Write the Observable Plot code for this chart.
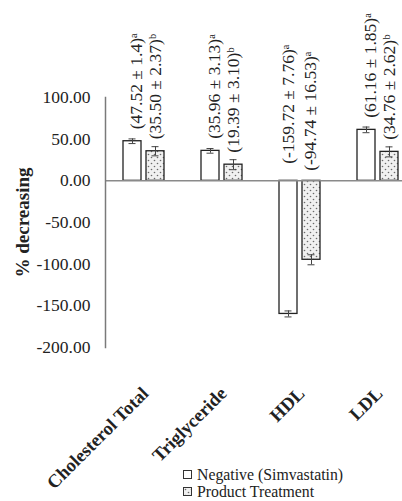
<!DOCTYPE html>
<html>
<head>
<meta charset="utf-8">
<script src="https://cdn.jsdelivr.net/npm/d3@7"></script>
<script src="https://cdn.jsdelivr.net/npm/@observablehq/plot@0.6"></script>
<style>
  html, body { margin: 0; padding: 0; background: #fff; overflow: hidden; }
  #wrap { position: relative; width: 402px; height: 501px; }
  #legend { position: absolute; left: 183px; top: 466px; font-family: "Liberation Serif", "Times New Roman", serif; font-size: 15.8px; color: #222; line-height: 17px; }
  #legend .row { display: flex; align-items: center; white-space: nowrap; }
  #legend .sw { width: 7px; height: 7px; border: 1px solid #333; margin-right: 5px; box-sizing: content-box; }
</style>
</head>
<body>
<div id="wrap"></div>
<script>
// ---- data ----
const categories = ["Cholesterol Total", "Triglyceride", "HDL", "LDL"];
const seriesNames = ["Negative (Simvastatin)", "Product Treatment"];
const negValues = [47.52, 35.96, -159.72, 61.16];
const prodValues = [35.50, 19.39, -94.74, 34.76];
const negSD = ["1.4", "3.13", "7.76", "1.85"];
const prodSD = ["2.37", "3.10", "16.53", "2.62"];
const negSig = ["a", "a", "a", "a"];
const prodSig = ["b", "b", "a", "b"];
// error bar half-lengths as drawn in the figure
const negErrDrawn = [2.8, 2.8, 3.6, 3.4];
const prodErrDrawn = [5.5, 6.0, 6.0, 6.0];
const yTicks = [100, 50, 0, -50, -100, -150, -200];

const sup = {a: "\u1D43", b: "\u1D47"};
const rows = [];
categories.forEach((c, i) => {
  rows.push({cat: c, series: seriesNames[0], value: negValues[i], err: negErrDrawn[i],
    label: `(${negValues[i].toFixed(2)} ± ${negSD[i]})${sup[negSig[i]]}`});
  rows.push({cat: c, series: seriesNames[1], value: prodValues[i], err: prodErrDrawn[i],
    label: `(${prodValues[i].toFixed(2)} ± ${prodSD[i]})${sup[prodSig[i]]}`});
});
const neg = rows.filter(d => d.series === seriesNames[0]);
const prod = rows.filter(d => d.series === seriesNames[1]);

const FONT = '"Liberation Serif", "Times New Roman", serif';

const chart = Plot.plot({
  width: 402,
  height: 501,
  marginLeft: 105,
  marginRight: -15,
  marginTop: 97,
  marginBottom: 154,
  style: {fontFamily: FONT, fontSize: "17px", color: "#222", background: "transparent", overflow: "visible"},
  x: {domain: categories, padding: 0, axis: null},
  y: {domain: [-200, 100], ticks: yTicks, axis: null},
  marks: [
    Plot.axisY({ticks: yTicks, tickSize: 0, tickPadding: 15, tickFormat: d => d.toFixed(2), label: null, fontSize: 17.5}),
    Plot.axisX({tickRotate: -45, tickSize: 0, tickPadding: 43, label: null, fontWeight: "bold", fontSize: 18.5, dx: 1}),
    Plot.text(["% decreasing"], {frameAnchor: "left", textAnchor: "middle", rotate: -90, dx: -83, fontWeight: "bold", fontSize: 19}),
    Plot.barY(neg, {x: "cat", y: "value", insetLeft: 18, insetRight: 42, fill: "white", stroke: "#222", strokeWidth: 1.3}),
    Plot.barY(prod, {x: "cat", y: "value", insetLeft: 41, insetRight: 19, fill: "url(#dots)", stroke: "#222", strokeWidth: 1.3}),
    Plot.ruleX(neg, {x: "cat", y1: d => d.value - d.err, y2: d => d.value + d.err, dx: -12, stroke: "#444", strokeWidth: 1}),
    Plot.ruleX(prod, {x: "cat", y1: d => d.value - d.err, y2: d => d.value + d.err, dx: 11, stroke: "#444", strokeWidth: 1}),
    Plot.tickY(neg, {x: "cat", y: d => d.value + d.err, insetLeft: 23.5, insetRight: 47.5, stroke: "#444", strokeWidth: 1}),
    Plot.tickY(neg, {x: "cat", y: d => d.value - d.err, insetLeft: 23.5, insetRight: 47.5, stroke: "#444", strokeWidth: 1}),
    Plot.tickY(prod, {x: "cat", y: d => d.value + d.err, insetLeft: 46.5, insetRight: 24.5, stroke: "#444", strokeWidth: 1}),
    Plot.tickY(prod, {x: "cat", y: d => d.value - d.err, insetLeft: 46.5, insetRight: 24.5, stroke: "#444", strokeWidth: 1}),
    Plot.ruleY([0], {stroke: "#8a8a8a", strokeWidth: 1.5}),
    Plot.frame({anchor: "left", stroke: "#7a7a7a", strokeWidth: 1.5}),
    // value labels
    Plot.text(neg.filter(d => d.value >= 0), {x: "cat", y: "value", text: "label", rotate: -90, textAnchor: "start", dx: -8, dy: -12, fontSize: 17.5, fill: "#222"}),
    Plot.text(prod.filter(d => d.value >= 0), {x: "cat", y: "value", text: "label", rotate: -90, textAnchor: "start", dx: 11, dy: -12, fontSize: 17.5, fill: "#222"}),
    Plot.text(neg.filter(d => d.value < 0), {x: "cat", y: 0, text: "label", rotate: -90, textAnchor: "start", dx: -12, dy: -17, fontSize: 17.5, fill: "#222"}),
    Plot.text(prod.filter(d => d.value < 0), {x: "cat", y: 0, text: "label", rotate: -90, textAnchor: "start", dx: 10, dy: -10, fontSize: 17.5, fill: "#222"})
  ]
});

// dotted pattern definition
const NS = "http://www.w3.org/2000/svg";
function makePattern(id) {
  const defs = document.createElementNS(NS, "defs");
  const pat = document.createElementNS(NS, "pattern");
  pat.setAttribute("id", id);
  pat.setAttribute("width", "6");
  pat.setAttribute("height", "6");
  pat.setAttribute("patternUnits", "userSpaceOnUse");
  const r = document.createElementNS(NS, "rect");
  r.setAttribute("width", "6"); r.setAttribute("height", "6"); r.setAttribute("fill", "#f0f0f0");
  pat.appendChild(r);
  [[1.5, 1.5], [4.5, 4.5]].forEach(([cx, cy]) => {
    const c = document.createElementNS(NS, "circle");
    c.setAttribute("cx", cx); c.setAttribute("cy", cy); c.setAttribute("r", "0.8"); c.setAttribute("fill", "#6a6a6a");
    pat.appendChild(c);
  });
  defs.appendChild(pat);
  return defs;
}
chart.insertBefore(makePattern("dots"), chart.firstChild);
document.getElementById("wrap").appendChild(chart);

// legend
const legend = document.createElement("div");
legend.id = "legend";
seriesNames.forEach((name, i) => {
  const row = document.createElement("div");
  row.className = "row";
  const sw = document.createElement("span");
  sw.className = "sw";
  if (i === 0) {
    sw.style.background = "#fff";
  } else {
    const s = document.createElementNS(NS, "svg");
    s.setAttribute("width", "7"); s.setAttribute("height", "7");
    s.style.display = "block";
    s.appendChild(makePattern("dotsLegend"));
    const rr = document.createElementNS(NS, "rect");
    rr.setAttribute("width", "7"); rr.setAttribute("height", "7"); rr.setAttribute("fill", "url(#dotsLegend)");
    s.appendChild(rr);
    sw.appendChild(s);
  }
  const t = document.createElement("span");
  t.textContent = name;
  row.appendChild(sw);
  row.appendChild(t);
  legend.appendChild(row);
});
document.getElementById("wrap").appendChild(legend);
</script>
</body>
</html>
